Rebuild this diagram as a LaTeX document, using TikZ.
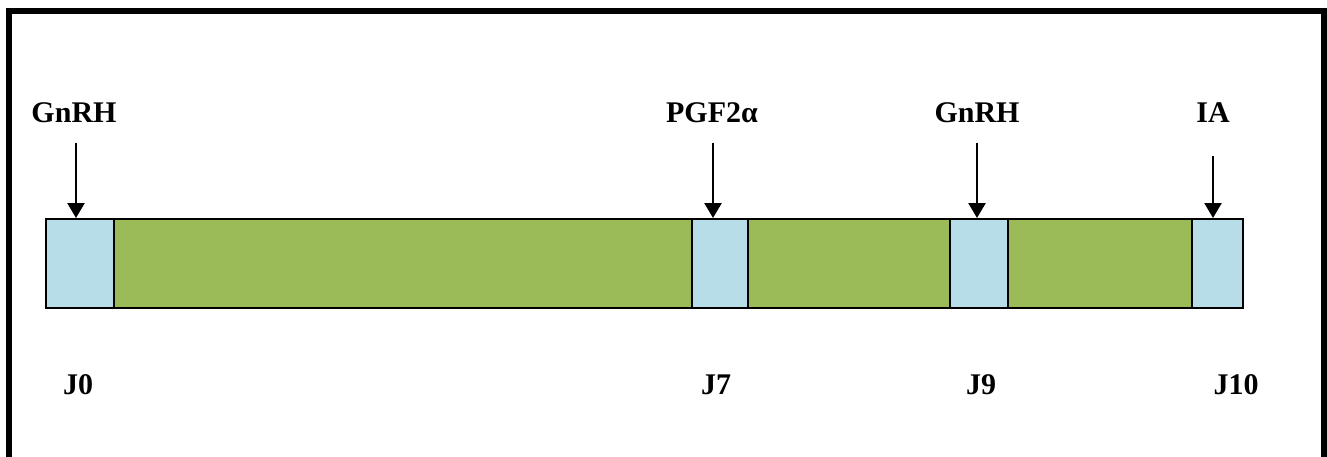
\documentclass[tikz,border=0pt]{standalone}
\usepackage{fontspec}
\setmainfont{Liberation Serif}
\usetikzlibrary{arrows.meta}
\definecolor{phasegreen}{HTML}{9BBB59}
\definecolor{phaseblue}{HTML}{B7DDE8}
\begin{document}
\begin{tikzpicture}[x=1pt,y=-1pt,
  seg/.style={draw=black,line width=2pt,minimum height=89pt,inner sep=0pt,anchor=north west},
  treat/.style={seg,fill=phaseblue},
  wait/.style={seg,fill=phasegreen},
  lbl/.style={font=\fontsize{30}{34}\selectfont\bfseries,inner sep=0pt},
  hormone/.style={-{Triangle[length=15pt,width=17pt]},line width=2.4pt}]
\useasboundingbox (0,0) rectangle (1327,456);
% outer frame, its bottom edge lies below the page
\draw[line width=6.5pt] (9,470) -- (9,11) -- (1324,11) -- (1324,470);
% timeline segments
\node[treat,minimum width=68pt] (b0) at (45,218) {};
\node[wait,minimum width=578pt] (g1) at (113,218) {};
\node[treat,minimum width=56pt] (b7) at (691,218) {};
\node[wait,minimum width=202pt] (g2) at (747,218) {};
\node[treat,minimum width=58pt] (b9) at (949,218) {};
\node[wait,minimum width=184pt] (g3) at (1007,218) {};
\node[treat,minimum width=51pt] (b10) at (1191,218) {};
% treatment labels
\node[lbl] (t0) at (74,113) {GnRH};
\node[lbl] (t7) at (712,113) {PGF2α};
\node[lbl] (t9) at (977,113) {GnRH};
\node[lbl] (t10) at (1213,113) {IA};
% arrow starts
\coordinate (s0) at (76,143);
\coordinate (s7) at (713,143);
\coordinate (s9) at (977,143);
\coordinate (s10) at (1213,156);
\draw[hormone] (s0) -- (s0 |- b0.north);
\draw[hormone] (s7) -- (s7 |- b7.north);
\draw[hormone] (s9) -- (s9 |- b9.north);
\draw[hormone] (s10) -- (s10 |- b10.north);
% day labels
\node[lbl] (d0) at (78,385) {J0};
\node[lbl] (d7) at (716,385) {J7};
\node[lbl] (d9) at (981,385) {J9};
\node[lbl] (d10) at (1236,385) {J10};
\end{tikzpicture}
\end{document}
